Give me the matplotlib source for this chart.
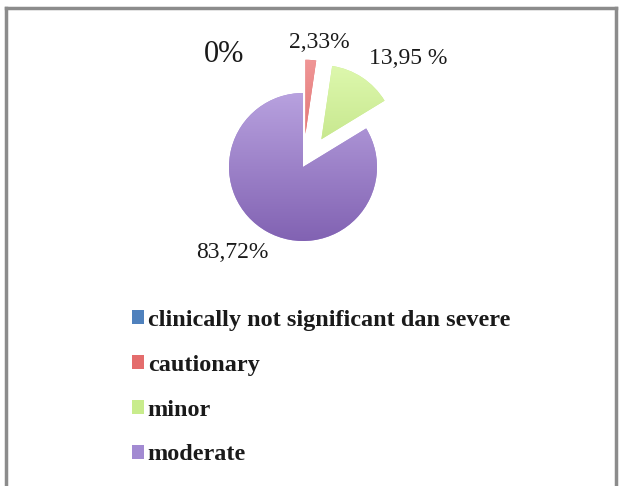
import numpy as np
import matplotlib.pyplot as plt
from matplotlib.lines import Line2D
from matplotlib.colors import LinearSegmentedColormap

categories = ['clinically not significant dan severe', 'cautionary', 'minor', 'moderate']
values = [0.0, 2.33, 13.95, 83.72]
value_labels = ['0%', '2,33%', '13,95 %', '83,72%']
colors = ['#4f81bd', '#e46c6c', '#c8ec8c', '#a28ad2']
# light / dark ends of the shading in each slice
shade_top = ['#7fa6db', '#f29a9a', '#e2fbb4', '#c8b4ec']
shade_bot = ['#3c6aa6', '#cc4848', '#a6d060', '#7c5cae']

W, H = 620, 486
fig = plt.figure(figsize=(W / 100, H / 100), dpi=100)

# pie axes: centre at (303, 167) px, radius ~74 px
cx, cy, r = 303, 167, 74
half = 1.5 * r
ax = fig.add_axes([(cx - half) / W, (H - cy - half) / H, 2 * half / W, 2 * half / H])
wedges, _ = ax.pie(values, colors=colors, startangle=90, counterclock=False,
                   explode=[0.45, 0.45, 0.45, 0.0], radius=1.0,
                   wedgeprops=dict(linewidth=0))

# vertical gradient inside every wedge
grad = np.linspace(1, 0, 256).reshape(-1, 1)
for w, c1, c2 in zip(wedges, shade_top, shade_bot):
    cm = LinearSegmentedColormap.from_list('s', [c2, c1])
    im = ax.imshow(grad, cmap=cm, aspect='auto', extent=[-1.5, 1.5, -1.2, 1.6],
                   origin='upper', zorder=w.get_zorder() + 0.1)
    im.set_clip_path(w)

ax.set_xlim(-1.5, 1.5)
ax.set_ylim(-1.5, 1.5)
ax.set_aspect('equal')
ax.axis('off')

# value labels
label_pos = [(224, 55), (319, 42), (408, 58), (232, 252)]
label_size = [22, 17, 17, 17]
for txt, (px, py), fs in zip(value_labels, label_pos, label_size):
    fig.text(px / W, 1 - py / H, txt, ha='center', va='center',
             fontsize=fs, family='Liberation Serif', color='#1a1a1a')

leg = fig.legend(wedges, categories, loc='upper left',
                 bbox_to_anchor=(110 / W, 1 - 288 / H),
                 frameon=False, handlelength=0.5, handleheight=0.5,
                 handletextpad=0.15, labelspacing=0.98,
                 prop={'family': 'Liberation Serif', 'size': 17.5, 'weight': 'bold'})
for t in leg.get_texts():
    t.set_color('#1a1a1a')

# outer frame (open at the bottom)
lc = '#8c8c8c'
fig.add_artist(Line2D([6 / W, 6 / W], [0, 1 - 8 / H], color=lc, lw=2.5))
fig.add_artist(Line2D([6 / W, 616 / W], [1 - 8 / H, 1 - 8 / H], color=lc, lw=2.5))
fig.add_artist(Line2D([616 / W, 616 / W], [0, 1 - 8 / H], color=lc, lw=2.5))

fig.savefig('out.png', dpi=100)
